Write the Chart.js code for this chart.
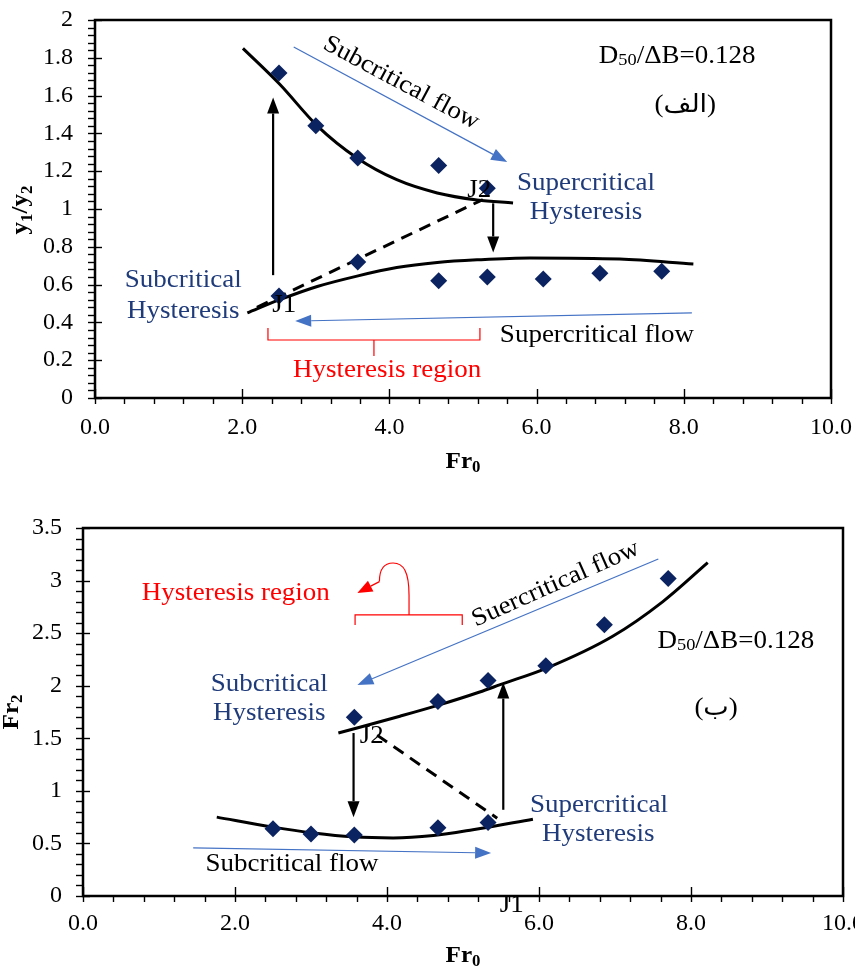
<!DOCTYPE html>
<html><head><meta charset="utf-8">
<script src="https://cdn.jsdelivr.net/npm/chart.js@4/dist/chart.umd.min.js"></script>
<style>
html,body{margin:0;padding:0;background:#fff;}
#wrap{position:relative;width:855px;height:966px;overflow:hidden;}
.box{position:absolute;left:0;width:855px;height:483px;}
canvas{display:block;}
</style></head><body>
<div id="wrap">
<div class="box" style="top:0"><canvas id="c1" width="855" height="483"></canvas></div>
<div class="box" style="top:483px"><canvas id="c2" width="855" height="483"></canvas></div>
</div>
<script>
// ---------- tick labels ----------
const xTickValues = [0, 2, 4, 6, 8, 10];
const xTickLabels = ['0.0', '2.0', '4.0', '6.0', '8.0', '10.0'];
const ratioTickValues = [0, 0.2, 0.4, 0.6, 0.8, 1, 1.2, 1.4, 1.6, 1.8, 2];
const ratioTickLabels = ['0', '0.2', '0.4', '0.6', '0.8', '1', '1.2', '1.4', '1.6', '1.8', '2'];
const fr2TickValues = [0, 0.5, 1, 1.5, 2, 2.5, 3, 3.5];
const fr2TickLabels = ['0', '0.5', '1', '1.5', '2', '2.5', '3', '3.5'];

// ---------- panel (الف): y1/y2 vs Fr0 ----------
const ratioUpperFr0 = [2.50, 3.00, 3.57, 4.67, 5.33];
const ratioUpper = [1.72, 1.44, 1.27, 1.23, 1.11];
const ratioLowerFr0 = [2.50, 3.57, 4.67, 5.33, 6.09, 6.86, 7.70];
const ratioLower = [0.54, 0.72, 0.62, 0.64, 0.63, 0.66, 0.67];
const ratioFitUpperFr0 = [2.01, 2.51, 3.02, 3.56, 4.10, 4.65, 5.19, 5.68];
const ratioFitUpper = [1.85, 1.66, 1.44, 1.27, 1.155, 1.085, 1.048, 1.032];
const ratioFitLowerFr0 = [2.07, 2.51, 3.02, 3.56, 4.10, 4.65, 5.19, 5.91, 7.13, 8.13];
const ratioFitLower = [0.45, 0.52, 0.59, 0.645, 0.69, 0.717, 0.731, 0.741, 0.735, 0.709];
const ratioJumpFr0 = [2.20, 5.27];
const ratioJump = [0.48, 1.05];

// ---------- panel (ب): Fr2 vs Fr0 ----------
const fr2UpperFr0 = [3.57, 4.67, 5.33, 6.09, 6.86, 7.70];
const fr2Upper = [1.70, 1.85, 2.05, 2.19, 2.58, 3.02];
const fr2LowerFr0 = [2.50, 3.00, 3.57, 4.67, 5.33];
const fr2Lower = [0.64, 0.59, 0.58, 0.65, 0.70];
const fr2FitUpperFr0 = [3.36, 4.17, 4.70, 5.22, 5.49, 6.11, 6.97, 7.63, 8.22];
const fr2FitUpper = [1.55, 1.71, 1.82, 1.94, 2.01, 2.17, 2.47, 2.80, 3.17];
const fr2FitLowerFr0 = [1.76, 2.50, 3.03, 3.55, 4.08, 4.61, 5.13, 5.92];
const fr2FitLower = [0.75, 0.655, 0.60, 0.563, 0.552, 0.575, 0.63, 0.73];
const fr2JumpFr0 = [3.87, 5.45];
const fr2Jump = [1.53, 0.74];

// ---------- styles ----------
const SERIF = "'Liberation Serif', 'Times New Roman', 'DejaVu Sans', serif";
const NAVY_TEXT = '#1f3b7a';
const NAVY_PT = '#0b2360';
const BLUE = '#4472C4';
const RED = '#ff0000';
const pts = (xs, ys) => xs.map((x, i) => ({x, y: ys[i]}));

function scatterSet(xs, ys) {
  return {type: 'scatter', data: pts(xs, ys), pointStyle: 'rectRot', pointRadius: 8.5,
    backgroundColor: NAVY_PT, borderColor: NAVY_PT, borderWidth: 0, showLine: false, order: 0};
}
function lineSet(xs, ys, dash) {
  return {type: 'line', data: pts(xs, ys), borderColor: '#000', borderWidth: 3, pointRadius: 0,
    fill: false, cubicInterpolationMode: dash ? 'default' : 'monotone', tension: 0,
    borderDash: dash ? [12, 8] : [], order: 1};
}

// ---------- drawing helpers ----------
function richText(ctx, x, y, segs, o) {
  o = o || {};
  const sx = o.sx || 1;
  const weight = o.weight || 'normal';
  let w = 0;
  segs.forEach(s => { ctx.font = weight + ' ' + s.s + 'px ' + SERIF; s.w = ctx.measureText(s.t).width; w += s.w; });
  ctx.save();
  ctx.translate(x, y);
  if (o.rot) ctx.rotate(o.rot * Math.PI / 180);
  ctx.scale(sx, 1);
  ctx.fillStyle = o.color || '#000';
  ctx.textBaseline = o.baseline || 'alphabetic';
  ctx.textAlign = 'left';
  let cx = o.align === 'left' ? 0 : (o.align === 'right' ? -w : -w / 2);
  segs.forEach(s => { ctx.font = weight + ' ' + s.s + 'px ' + SERIF; ctx.fillText(s.t, cx, s.dy || 0); cx += s.w; });
  ctx.restore();
}
function arrow(ctx, x1, y1, x2, y2, color, lw, hl, hw) {
  const ang = Math.atan2(y2 - y1, x2 - x1);
  const bx = x2 - hl * Math.cos(ang), by = y2 - hl * Math.sin(ang);
  ctx.save();
  ctx.strokeStyle = color; ctx.fillStyle = color; ctx.lineWidth = lw; ctx.setLineDash([]);
  ctx.beginPath(); ctx.moveTo(x1, y1); ctx.lineTo(bx, by); ctx.stroke();
  ctx.beginPath(); ctx.moveTo(x2, y2);
  ctx.lineTo(bx + hw / 2 * Math.sin(ang), by - hw / 2 * Math.cos(ang));
  ctx.lineTo(bx - hw / 2 * Math.sin(ang), by + hw / 2 * Math.cos(ang));
  ctx.closePath(); ctx.fill();
  ctx.restore();
}

function decorPlugin(cfg) {
  return {
    id: 'decor',
    afterDatasetsDraw(chart) {
      const ctx = chart.ctx, xs = chart.scales.x, ys = chart.scales.y, a = chart.chartArea;
      const X = v => xs.getPixelForValue(v), Y = v => ys.getPixelForValue(v);
      ctx.save();
      // ticks
      ctx.strokeStyle = '#000'; ctx.lineWidth = 1.4;
      const nY = Math.round((ys.max - ys.min) / cfg.yMinor);
      const perY = Math.round(cfg.yMajor / cfg.yMinor);
      for (let i = 0; i <= nY; i++) {
        const p = Math.round(Y(ys.min + i * cfg.yMinor)) + 0.5;
        ctx.beginPath();
        ctx.moveTo(a.left - 7, p); ctx.lineTo(i % perY === 0 ? a.left + 7 : a.left, p); ctx.stroke();
      }
      const nX = Math.round((xs.max - xs.min) / cfg.xMinor);
      const perX = Math.round(cfg.xMajor / cfg.xMinor);
      for (let i = 0; i <= nX; i++) {
        const p = Math.round(X(xs.min + i * cfg.xMinor)) + 0.5;
        ctx.beginPath();
        ctx.moveTo(p, a.bottom + 6); ctx.lineTo(p, i % perX === 0 ? a.bottom - 9 : a.bottom); ctx.stroke();
      }
      // frame
      ctx.lineWidth = 2.5;
      ctx.strokeRect(a.left, a.top, a.right - a.left, a.bottom - a.top);
      // red bracket / curl
      ctx.strokeStyle = RED; ctx.lineWidth = 1.2;
      cfg.polylines.forEach(pl => {
        ctx.beginPath();
        pl.forEach((q, i) => i ? ctx.lineTo(X(q[0]), Y(q[1])) : ctx.moveTo(X(q[0]), Y(q[1])));
        ctx.stroke();
      });
      if (cfg.curl) {
        const c = cfg.curl;
        ctx.beginPath();
        ctx.moveTo(X(c[0][0]), Y(c[0][1]));
        ctx.lineTo(X(c[1][0]), Y(c[1][1]));
        ctx.bezierCurveTo(X(c[2][0]), Y(c[2][1]), X(c[3][0]), Y(c[3][1]), X(c[4][0]), Y(c[4][1]));
        ctx.bezierCurveTo(X(c[5][0]), Y(c[5][1]), X(c[6][0]), Y(c[6][1]), X(c[7][0]), Y(c[7][1]));
        ctx.stroke();
        arrow(ctx, X(c[7][0]), Y(c[7][1]), X(c[8][0]), Y(c[8][1]), RED, 1.2, 15, 12);
      }
      // arrows
      cfg.arrows.forEach(r => arrow(ctx, X(r.from[0]), Y(r.from[1]), X(r.to[0]), Y(r.to[1]), r.color, r.lw, r.hl, r.hw));
      // texts
      cfg.texts.forEach(t => richText(ctx, X(t.at[0]), Y(t.at[1]), t.segs,
        {color: t.color, rot: t.rot, baseline: t.baseline, sx: 1.08, align: t.align}));
      // axis titles
      richText(ctx, cfg.yTitle.x, cfg.yTitle.y, cfg.yTitle.segs, {rot: -90, weight: 'bold', sx: 1.05});
      richText(ctx, (a.left + a.right) / 2, cfg.xTitleY, [{t: 'Fr', s: 24}, {t: '0', s: 16, dy: 4}], {weight: 'bold', sx: 1.05});
      ctx.restore();
    }
  };
}

function options(o) {
  return {
    responsive: false, animation: false, events: [],
    layout: {padding: {left: 0, top: o.top, right: o.right, bottom: 0}},
    plugins: {legend: {display: false}, tooltip: {enabled: false}},
    scales: {
      x: {type: 'linear', min: 0, max: 10,
        grid: {display: false, drawTicks: false}, border: {display: false},
        afterBuildTicks: s => { s.ticks = xTickValues.map(v => ({value: v})); },
        ticks: {padding: o.xpad, color: '#000', maxRotation: 0, autoSkip: false,
          font: {family: SERIF, size: 24}, callback: (v, i) => xTickLabels[i]},
        afterFit: s => { s.height = o.xh; s.paddingLeft = 0; s.paddingRight = 0; }},
      y: {type: 'linear', min: o.ymin, max: o.ymax,
        grid: {display: false, drawTicks: false}, border: {display: false},
        afterBuildTicks: s => { s.ticks = o.yTicks.map(v => ({value: v})); },
        ticks: {padding: o.ypad, color: '#000', autoSkip: false,
          font: {family: SERIF, size: 24}, callback: (v, i) => o.yLabels[i]},
        afterFit: s => { s.width = o.yw; s.paddingTop = 0; s.paddingBottom = 0; }}
    }
  };
}

const txt = (t, at, color, extra) => Object.assign({segs: [{t, s: 25}], at, color: color || '#000'}, extra || {});
const d50 = [{t: 'D', s: 25}, {t: '50', s: 17, dy: 2}, {t: '/ΔB=0.128', s: 25}];

// ---------- chart 1 ----------
new Chart(document.getElementById('c1'), {
  data: {datasets: [
    scatterSet(ratioUpperFr0, ratioUpper),
    scatterSet(ratioLowerFr0, ratioLower),
    lineSet(ratioFitUpperFr0, ratioFitUpper),
    lineSet(ratioFitLowerFr0, ratioFitLower),
    lineSet(ratioJumpFr0, ratioJump, true)
  ]},
  options: options({top: 20, right: 24, xh: 85, yw: 95, xpad: 15, ypad: 22, ymin: 0, ymax: 2,
    yTicks: ratioTickValues, yLabels: ratioTickLabels}),
  plugins: [decorPlugin({
    yMinor: 0.04, yMajor: 0.2, xMinor: 0.4, xMajor: 2,
    polylines: [[[2.35, 0.370], [2.35, 0.307], [5.23, 0.307], [5.23, 0.370]], [[3.79, 0.307], [3.79, 0.222]]],
    arrows: [
      {from: [2.42, 0.65], to: [2.42, 1.59], color: '#000', lw: 2.2, hl: 16, hw: 12},
      {from: [5.41, 1.03], to: [5.41, 0.77], color: '#000', lw: 2.2, hl: 16, hw: 12},
      {from: [2.70, 1.857], to: [5.60, 1.249], color: BLUE, lw: 1.2, hl: 16, hw: 12},
      {from: [8.11, 0.45], to: [2.72, 0.407], color: BLUE, lw: 1.2, hl: 16, hw: 12}
    ],
    texts: [
      txt('Subcritical flow', [4.16, 1.667], '#000', {rot: 28, baseline: 'middle'}),
      {segs: d50, at: [7.91, 1.772], color: '#000'},
      txt('(الف)', [8.02, 1.513]),
      txt('Supercritical', [6.67, 1.10], NAVY_TEXT),
      txt('Hysteresis', [6.67, 0.947], NAVY_TEXT),
      txt('J2', [5.22, 1.063]),
      txt('J1', [2.57, 0.455]),
      txt('Subcritical', [1.20, 0.587], NAVY_TEXT),
      txt('Hysteresis', [1.20, 0.423], NAVY_TEXT),
      txt('Supercritical flow', [6.82, 0.296]),
      txt('Hysteresis region', [3.97, 0.111], RED)
    ],
    yTitle: {x: 27, y: 210, segs: [{t: 'y', s: 24}, {t: '1', s: 16, dy: 5}, {t: '/y', s: 24}, {t: '2', s: 16, dy: 5}]},
    xTitleY: 468
  })]
});

// ---------- chart 2 ----------
new Chart(document.getElementById('c2'), {
  data: {datasets: [
    scatterSet(fr2UpperFr0, fr2Upper),
    scatterSet(fr2LowerFr0, fr2Lower),
    lineSet(fr2FitUpperFr0, fr2FitUpper),
    lineSet(fr2FitLowerFr0, fr2FitLower),
    lineSet(fr2JumpFr0, fr2Jump, true)
  ]},
  options: options({top: 45, right: 12, xh: 70, yw: 83, xpad: 13, ypad: 21, ymin: 0, ymax: 3.5,
    yTicks: fr2TickValues, yLabels: fr2TickLabels}),
  plugins: [decorPlugin({
    yMinor: 0.1, yMajor: 0.5, xMinor: 0.4, xMajor: 2,
    polylines: [[[3.58, 2.578], [3.58, 2.673], [4.99, 2.673], [4.99, 2.578]]],
    curl: [[4.29, 2.673], [4.29, 2.86], [4.29, 3.08], [4.22, 3.167], [4.08, 3.167],
           [3.93, 3.167], [3.90, 3.07], [3.90, 2.99], [3.61, 2.882]],
    arrows: [
      {from: [3.56, 1.55], to: [3.56, 0.75], color: '#000', lw: 2.2, hl: 16, hw: 12},
      {from: [5.53, 0.82], to: [5.53, 2.03], color: '#000', lw: 2.2, hl: 16, hw: 12},
      {from: [7.57, 3.205], to: [3.61, 2.007], color: BLUE, lw: 1.2, hl: 16, hw: 12},
      {from: [1.45, 0.457], to: [5.37, 0.409], color: BLUE, lw: 1.2, hl: 16, hw: 12}
    ],
    texts: [
      txt('Hysteresis region', [2.01, 2.815], RED),
      txt('Suercritical flow', [6.22, 2.967], '#000', {rot: -24, baseline: 'middle'}),
      {segs: d50, at: [8.59, 2.359], color: '#000'},
      txt('(ب)', [8.33, 1.722]),
      txt('Subcritical', [2.45, 1.95], NAVY_TEXT),
      txt('Hysteresis', [2.45, 1.674], NAVY_TEXT),
      txt('J2', [3.80, 1.455]),
      txt('Supercritical', [6.79, 0.799], NAVY_TEXT),
      txt('Hysteresis', [6.78, 0.523], NAVY_TEXT),
      txt('Subcritical flow', [2.75, 0.238]),
      txt('J1', [5.64, -0.152])
    ],
    yTitle: {x: 18, y: 229, segs: [{t: 'Fr', s: 24}, {t: '2', s: 16, dy: 4}]},
    xTitleY: 479
  })]
});
</script>
</body></html>
